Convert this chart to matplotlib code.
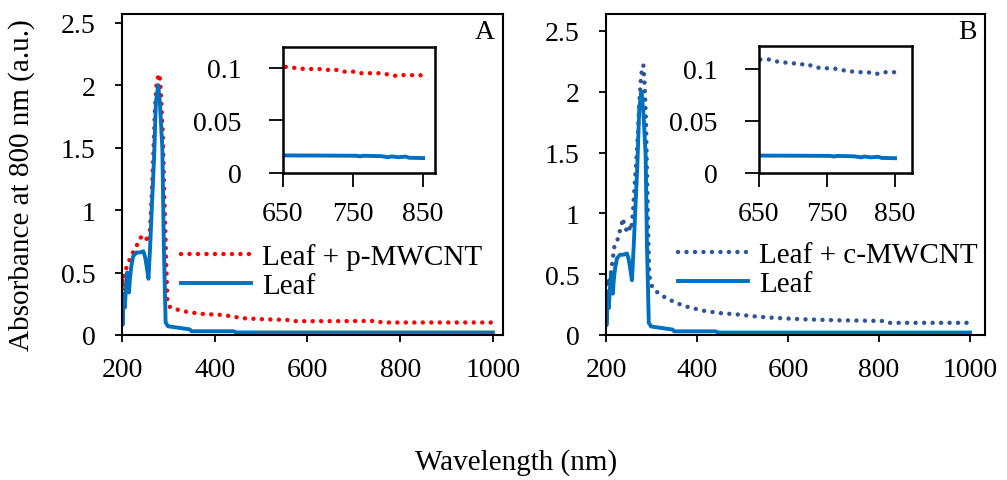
import numpy as np
import matplotlib
matplotlib.use("Agg")
import matplotlib.pyplot as plt
from matplotlib.ticker import FuncFormatter

# data
# leaf alone (same curve in both panels)
leaf_wl = [200, 201, 203, 206, 209, 211, 213, 215, 217, 220, 224, 231, 238, 246,
           250, 253, 257, 261, 264, 269, 273, 278, 282, 287, 290, 294, 299, 317,
           346, 350, 440, 447, 600, 800, 1000]
leaf_abs = [0.33, 0.08, 0.28, 0.22, 0.40, 0.50, 0.46, 0.34, 0.45, 0.55, 0.63, 0.66, 0.66, 0.67,
            0.62, 0.55, 0.45, 0.74, 1.00, 1.41, 1.86, 2.00, 1.84, 1.49, 0.74, 0.10, 0.07, 0.06,
            0.045, 0.03, 0.03, 0.02, 0.02, 0.02, 0.02]

# leaf + p-MWCNT (panel A)
p_wl = [200, 201, 203, 205, 211, 216, 222, 231, 238, 243, 249, 253, 257, 260,
        264, 268, 271, 275, 281, 284, 288, 291, 295, 298, 304, 332, 368, 418,
        461, 504, 562, 576, 750, 760, 1000]
p_abs = [0.30, 0.45, 0.40, 0.50, 0.55, 0.60, 0.65, 0.71, 0.77, 0.79, 0.76, 0.77, 0.74, 0.83,
         1.11, 1.49, 1.81, 2.04, 2.09, 1.92, 1.60, 1.14, 0.61, 0.26, 0.22, 0.19, 0.17, 0.16,
         0.134, 0.126, 0.12, 0.11, 0.112, 0.10, 0.10]

# leaf + c-MWCNT (panel B)
c_wl = [200, 201, 203, 206, 211, 214, 218, 222, 226, 230, 234, 237, 241, 244,
        248, 252, 255, 259, 262, 266, 270, 273, 277, 280, 282, 285, 288, 291,
        293, 295, 299, 303, 320, 339, 370, 413, 450, 486, 520, 560, 600, 633,
        670, 706, 760, 809, 824, 1000]
c_abs = [0.29, 0.46, 0.40, 0.43, 0.51, 0.60, 0.72, 0.76, 0.79, 0.85, 0.90, 0.96, 0.88, 0.87,
         0.84, 0.88, 0.86, 1.00, 1.17, 1.40, 1.64, 1.90, 2.13, 2.20, 2.22, 2.05, 1.72, 1.15,
         0.80, 0.49, 0.42, 0.38, 0.33, 0.29, 0.24, 0.20, 0.18, 0.17, 0.155, 0.143, 0.135, 0.129,
         0.125, 0.121, 0.118, 0.115, 0.10, 0.10]

# insets, 650-850 nm
ins_leaf_wl = [650, 700, 755, 760, 765, 790, 800, 805, 815, 825, 830, 850]
ins_leaf_abs = [0.0167, 0.0166, 0.0164, 0.0158, 0.0164, 0.0160, 0.0150, 0.0158, 0.0150, 0.0156, 0.0145, 0.0142]

ins_p_wl = [654, 668, 682, 701, 713, 720, 727, 737, 751, 761, 783, 792, 802, 811, 821, 850]
ins_p_abs = [0.101, 0.100, 0.099, 0.099, 0.098, 0.099, 0.098, 0.0965, 0.0965, 0.095, 0.095, 0.095,
             0.0934, 0.0925, 0.0932, 0.093]

ins_c_wl = [652, 667, 677, 690, 700, 710, 719, 729, 741, 754, 764, 776, 788, 800, 810, 822, 832, 850]
ins_c_abs = [0.109, 0.109, 0.107, 0.106, 0.1055, 0.104, 0.105, 0.1025, 0.1006, 0.1006, 0.100, 0.0984,
             0.0974, 0.0968, 0.0968, 0.095, 0.0968, 0.0968]

main_xticks = [200, 400, 600, 800, 1000]
main_yticks = [0, 0.5, 1, 1.5, 2, 2.5]
ins_xticks = [650, 750, 850]
ins_yticks = [0, 0.05, 0.1]

RED = "#FF0000"
BLUE = "#0070C0"
NAVY = "#2F5597"
DOTS = (0, (0.01, 1.9))

plt.rcParams["font.family"] = ["Liberation Serif", "DejaVu Serif"]
gfmt = FuncFormatter(lambda v, p: "%g" % v)

fig = plt.figure(figsize=(10.07, 4.81), dpi=100)


def style_axes(ax, fs, ticklen, xpad, ypad, lw):
    for s in ax.spines.values():
        s.set_linewidth(lw)
    ax.tick_params(direction="out", length=ticklen, width=1.3, labelsize=fs)
    ax.tick_params(axis="x", pad=xpad)
    ax.tick_params(axis="y", pad=ypad)
    ax.xaxis.set_major_formatter(gfmt)
    ax.yaxis.set_major_formatter(gfmt)


panels = [
    dict(rect=[0.1212, 0.3015, 0.3784, 0.6674], inset=[0.281, 0.6383, 0.151, 0.262],
         wl=p_wl, ab=p_abs, iwl=ins_p_wl, iab=ins_p_abs, color=RED,
         label="Leaf + p-MWCNT", letter="A", ylim=2.57, ixlim=867, iylim=0.12,
         xlim=1022, leg=(0.154, 0.285)),
    dict(rect=[0.6018, 0.3015, 0.3764, 0.6674], inset=[0.7537, 0.6383, 0.152, 0.264],
         wl=c_wl, ab=c_abs, iwl=ins_c_wl, iab=ins_c_abs, color=NAVY,
         label="Leaf + c-MWCNT", letter="B", ylim=2.64, ixlim=875, iylim=0.122,
         xlim=1033, leg=(0.19, 0.29)),
]

for pn in panels:
    ax = fig.add_axes(pn["rect"])
    ax.plot(pn["wl"], pn["ab"], color=pn["color"], lw=3.2, linestyle=DOTS,
            dash_capstyle="round", label=pn["label"])
    ax.plot(leaf_wl, leaf_abs, color=BLUE, lw=2.8, label="Leaf")
    ax.set_xlim(200, pn["xlim"])
    ax.set_ylim(0, pn["ylim"])
    ax.set_xticks(main_xticks)
    ax.set_yticks(main_yticks)
    style_axes(ax, 20, 5, 11, 14, 1.5)
    ax.text(0.979, 0.985, pn["letter"], transform=ax.transAxes, ha="right", va="top",
            fontsize=20)
    ax.legend(loc="upper left", bbox_to_anchor=pn["leg"], frameon=False, fontsize=21,
              borderpad=0, borderaxespad=0, handlelength=2.4, handletextpad=0.38,
              labelspacing=0.08)

    ins = fig.add_axes(pn["inset"])
    ins.plot(pn["iwl"], pn["iab"], color=pn["color"], lw=3.2, linestyle=DOTS,
             dash_capstyle="round")
    ins.plot(ins_leaf_wl, ins_leaf_abs, color=BLUE, lw=2.8)
    ins.set_xlim(650, pn["ixlim"])
    ins.set_ylim(0, pn["iylim"])
    ins.set_xticks(ins_xticks)
    ins.set_yticks(ins_yticks)
    style_axes(ins, 20, 10, 10, 20, 1.8)

fig.text(22 / 1007, 1 - 185 / 481, "Absorbance at 800 nm (a.u.)", rotation=90,
         ha="center", va="center", fontsize=21)
fig.text(516 / 1007, 1 - 463 / 481, "Wavelength (nm)", ha="center", va="center",
         fontsize=21)

fig.savefig("out.png", dpi=100)
